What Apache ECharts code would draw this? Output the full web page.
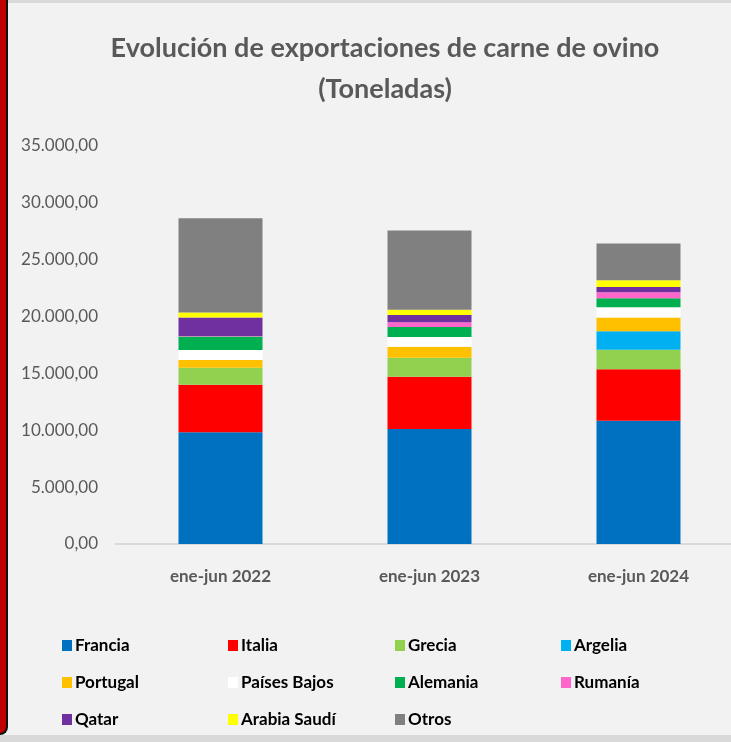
<!DOCTYPE html>
<html>
<head>
<meta charset="utf-8">
<script src="https://cdn.jsdelivr.net/npm/echarts@6/dist/echarts.min.js"></script>
<style>
  html, body { margin: 0; padding: 0; background: #f2f2f2; overflow: hidden; }
  #chart { position: absolute; left: 0; top: 0; width: 760px; height: 742px; }
  .frame { position: absolute; pointer-events: none; }
  #topBar { left: 0; top: 0; width: 731px; height: 3px; background: #d9d9d9; }
  #bottomBar { left: 0; top: 735px; width: 731px; height: 7px; background: #d9d9d9; }
  #redBar {
    left: 0; top: 0; width: 6px; height: 733px; background: #c00000;
    border-right: 2px solid #111; border-bottom: 2px solid #111;
    border-bottom-right-radius: 8px;
  }
</style>
</head>
<body>
<div id="chart"></div>
<div class="frame" id="topBar"></div>
<div class="frame" id="bottomBar"></div>
<div class="frame" id="redBar"></div>
<script>
const FONT = 'Lato, "Open Sans", sans-serif';

// Data (toneladas)
const periods = ['ene-jun 2022', 'ene-jun 2023', 'ene-jun 2024'];
const countries = ['Francia', 'Italia', 'Grecia', 'Argelia', 'Portugal', 'Países Bajos',
  'Alemania', 'Rumanía', 'Qatar', 'Arabia Saudí', 'Otros'];
const francia = [9820, 10110, 10840];
const italia = [4180, 4600, 4520];
const grecia = [1490, 1670, 1720];
const argelia = [0, 0, 1640];
const portugal = [700, 970, 1200];
const paisesBajos = [880, 850, 900];
const alemania = [1180, 880, 790];
const rumania = [50, 410, 530];
const qatar = [1620, 640, 470];
const arabiaSaudi = [440, 470, 590];
const otros = [8290, 6980, 3230];
const colors = ['#0070c0', '#ff0000', '#92d050', '#00b0f0', '#ffc000', '#ffffff',
  '#00b050', '#ff66cc', '#7030a0', '#ffff00', '#808080'];

const values = [francia, italia, grecia, argelia, portugal, paisesBajos,
  alemania, rumania, qatar, arabiaSaudi, otros];

function fmt(v) {
  const s = Math.round(v).toString().replace(/\B(?=(\d{3})+(?!\d))/g, '.');
  return s + ',00';
}

const series = countries.map((name, i) => ({
  name,
  type: 'bar',
  stack: 'total',
  barWidth: 84,
  data: values[i],
  itemStyle: { color: colors[i] },
}));

// legend laid out in 4 columns
const legendCols = [0, 1, 2, 3].map((c) => countries.filter((_, i) => i % 4 === c));
const legendLeft = [62, 228, 395, 561];
const legends = legendCols.map((data, c) => ({
  data,
  orient: 'vertical',
  left: legendLeft[c],
  top: 637,
  padding: 0,
  itemWidth: 10,
  itemHeight: 11,
  itemGap: 20,
  icon: 'rect',
  textStyle: { fontFamily: FONT, fontSize: 17, fontWeight: 'bold', color: '#000', padding: [0, 0, 0, -2] },
  selectedMode: false,
}));

const chart = echarts.init(document.getElementById('chart'));
chart.setOption({
  backgroundColor: '#f2f2f2',
  animation: false,
  title: {
    text: 'Evolución de exportaciones de carne de ovino\n(Toneladas)',
    left: 380,
    top: 23,
    textAlign: 'center',
    textStyle: { fontFamily: FONT, fontSize: 27, fontWeight: 'bold', color: '#595959', lineHeight: 41 },
  },
  legend: legends,
  grid: { left: 116, top: 146, width: 627, height: 398, containLabel: false },
  xAxis: {
    type: 'category',
    data: periods,
    axisLine: { lineStyle: { color: '#d9d9d9', width: 2 } },
    axisTick: { show: false },
    axisLabel: { margin: 24, fontFamily: FONT, fontSize: 17, fontWeight: 'bold', color: '#595959' },
  },
  yAxis: {
    type: 'value',
    min: 0,
    max: 35000,
    interval: 5000,
    splitLine: { show: false },
    axisLine: { show: false },
    axisTick: { show: false },
    axisLabel: { margin: 18, fontFamily: FONT, fontSize: 17, color: '#595959', formatter: fmt },
  },
  series,
});
</script>
</body>
</html>
